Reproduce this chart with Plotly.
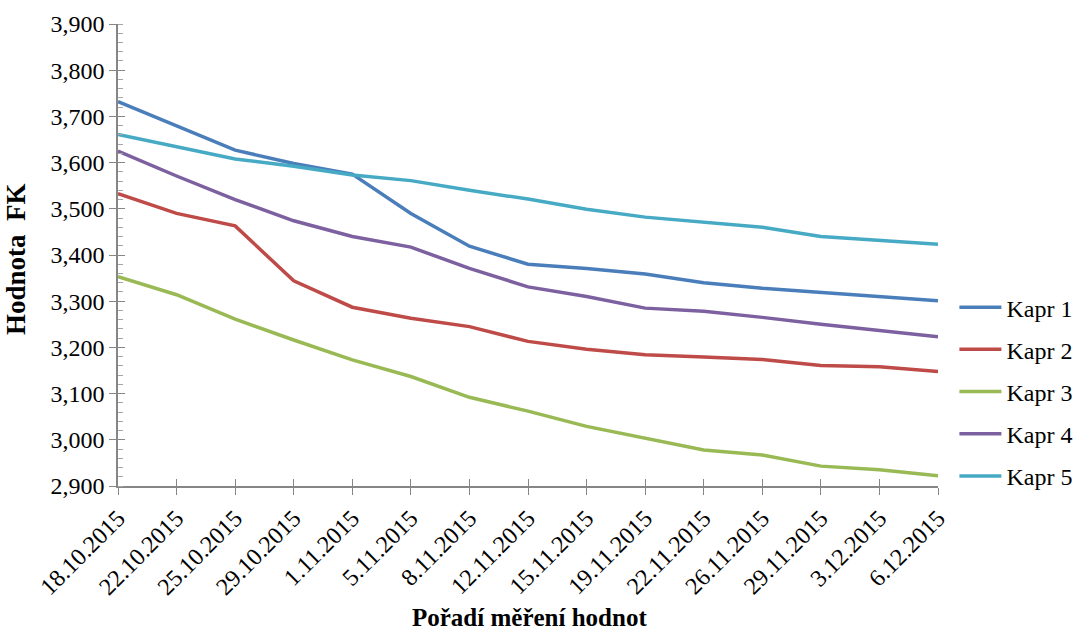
import plotly.graph_objects as go

# Measurement dates (category axis)
dates = ["18.10.2015", "22.10.2015", "25.10.2015", "29.10.2015", "1.11.2015",
         "5.11.2015", "8.11.2015", "12.11.2015", "15.11.2015", "19.11.2015",
         "22.11.2015", "26.11.2015", "29.11.2015", "3.12.2015", "6.12.2015"]

# FK values per carp
kapr1 = [3.732, 3.679, 3.627, 3.598, 3.575, 3.490, 3.419, 3.380, 3.371, 3.359,
         3.340, 3.328, 3.319, 3.310, 3.301]
kapr2 = [3.533, 3.490, 3.463, 3.344, 3.287, 3.263, 3.245, 3.213, 3.196, 3.184,
         3.179, 3.174, 3.161, 3.158, 3.148]
kapr3 = [3.353, 3.314, 3.261, 3.216, 3.173, 3.137, 3.092, 3.062, 3.029, 3.003,
         2.978, 2.967, 2.943, 2.935, 2.922]
kapr4 = [3.625, 3.571, 3.520, 3.474, 3.440, 3.417, 3.371, 3.331, 3.310, 3.285,
         3.278, 3.265, 3.250, 3.236, 3.223]
kapr5 = [3.661, 3.634, 3.608, 3.592, 3.573, 3.561, 3.540, 3.521, 3.499, 3.482,
         3.471, 3.460, 3.440, 3.431, 3.423]

series_names = ["Kapr 1", "Kapr 2", "Kapr 3", "Kapr 4", "Kapr 5"]
series_values = [kapr1, kapr2, kapr3, kapr4, kapr5]
series_colors = ["#4A7EBB", "#BE4B48", "#98B954", "#7D60A0", "#46AAC5"]

FONT = "Liberation Serif"
AXIS_GREY = "#868686"

fig = go.Figure()
for name, vals, col in zip(series_names, series_values, series_colors):
    fig.add_trace(go.Scatter(
        x=dates, y=vals, name=name, mode="lines",
        line=dict(color=col, width=3.5),
        legendgroup=name,
    ))

# Invisible helper trace carrying the secondary axes (inner half of crossing ticks)
fig.add_trace(go.Scatter(
    x=dates, y=kapr1, xaxis="x2", yaxis="y2", mode="lines",
    line=dict(width=0), opacity=0, showlegend=False, hoverinfo="skip",
))

fig.update_layout(
    width=1077, height=635,
    margin=dict(l=118, r=139, t=24, b=149, autoexpand=False),
    paper_bgcolor="white", plot_bgcolor="white",
    separators=",.",
    font=dict(family=FONT, size=24, color="#000000"),
    showlegend=True,
    legend=dict(
        x=1.02, y=0.435, yanchor="top", xanchor="left",
        font=dict(family=FONT, size=24, color="#000000"),
        tracegroupgap=8, itemwidth=42, bgcolor="rgba(0,0,0,0)",
    ),
    xaxis=dict(
        type="category", categoryorder="array", categoryarray=dates,
        range=[0, 14], showgrid=False, zeroline=False,
        showline=True, linecolor=AXIS_GREY, linewidth=1.5,
        ticks="outside", ticklen=7, tickcolor=AXIS_GREY, tickwidth=1.2,
        tickangle=-45, tickfont=dict(family=FONT, size=24, color="#000000"),
    ),
    yaxis=dict(
        range=[2.9, 3.9], dtick=0.1, tick0=2.9, tickformat=".3f",
        showgrid=False, zeroline=False,
        showline=True, linecolor=AXIS_GREY, linewidth=1.5,
        ticks="outside", ticklen=7, tickcolor=AXIS_GREY, tickwidth=1.2,
        tickfont=dict(family=FONT, size=24, color="#000000"),
        minor=dict(dtick=0.02, ticks="inside", ticklen=5,
                   tickcolor="#A6A6A6", tickwidth=1),
    ),
    xaxis2=dict(
        overlaying="x", type="category", categoryorder="array",
        categoryarray=dates, range=[0, 14], showgrid=False, zeroline=False,
        showline=False, showticklabels=False,
        ticks="inside", ticklen=7, tickcolor=AXIS_GREY, tickwidth=1.2,
    ),
    yaxis2=dict(
        overlaying="y", range=[2.9, 3.9], dtick=0.1, tick0=2.9,
        showgrid=False, zeroline=False, showline=False, showticklabels=False,
        ticks="inside", ticklen=7, tickcolor=AXIS_GREY, tickwidth=1.2,
    ),
    annotations=[
        dict(text="<b>Hodnota  FK</b>", textangle=-90, showarrow=False,
             xref="paper", yref="paper", x=-0.125, y=0.49,
             xanchor="center", yanchor="middle",
             font=dict(family=FONT, size=27, color="#000000")),
        dict(text="<b>Pořadí měření hodnot</b>", showarrow=False,
             xref="paper", yref="paper", x=0.502, y=-0.284,
             xanchor="center", yanchor="middle",
             font=dict(family=FONT, size=25, color="#000000")),
    ],
)

fig.write_html("out.html")
